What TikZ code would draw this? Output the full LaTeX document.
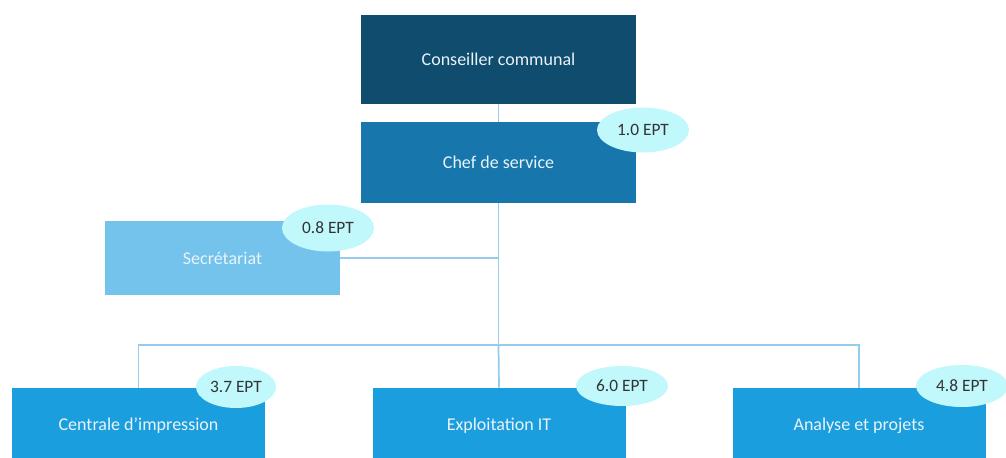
\documentclass[tikz,border=0pt]{standalone}
\usepackage{fontspec}
\setmainfont{Carlito}
\usepackage{xcolor}
\usepackage{tikz}
\usetikzlibrary{positioning,shapes.geometric}

\definecolor{navy}{HTML}{0F4C6E}
\definecolor{chefblue}{HTML}{1777AC}
\definecolor{secrblue}{HTML}{73C3EC}
\definecolor{unitblue}{HTML}{1B9EDE}
\definecolor{eptfill}{HTML}{C0F8FB}
\definecolor{linkblue}{HTML}{93CDEB}
\definecolor{boxtext}{HTML}{EAF3F8}

\tikzset{
  orgbox/.style={rectangle, text=boxtext, font=\fontsize{13.5}{16}\selectfont, inner sep=0pt},
  eptbubble/.style={ellipse, fill=eptfill, text=black!80, font=\fontsize{13}{15}\selectfont,
    minimum width=0.75pt*92, minimum height=0.75pt*45, inner sep=0pt},
  link/.style={draw=linkblue, line width=1.3pt}
}

\begin{document}
\begin{tikzpicture}[x=0.75pt, y=-0.75pt]
    \useasboundingbox (0,0) rectangle (1006,457);

    % Direction
    \node[orgbox, fill=navy, minimum width=0.75pt*275, minimum height=0.75pt*89] (cons) at (498.5,59.5) {Conseiller communal};
    \node[orgbox, fill=chefblue, minimum width=0.75pt*275, minimum height=0.75pt*81] (chef) at (498.5,162.5) {Chef de service};

    % Etat-major
    \node[orgbox, fill=secrblue, minimum width=0.75pt*235, minimum height=0.75pt*74] (secr) at (222.5,258) {Secrétariat};

    % Unites
    \node[orgbox, fill=unitblue, minimum width=0.75pt*253, minimum height=0.75pt*76] (cent) at (138.5,426) {Centrale d'impression};
    \node[orgbox, fill=unitblue, minimum width=0.75pt*253, minimum height=0.75pt*76] (expl) at (499,426) {Exploitation IT};
    \node[orgbox, fill=unitblue, minimum width=0.75pt*253, minimum height=0.75pt*76] (anal) at (859,426) {Analyse et projets};

    % Liaisons
    \coordinate (bus) at (498.5,345);
    \draw[link] (cons) -- (chef);
    \draw[link] (chef.south) -- (bus);
    \draw[link] (secr.east) -- (secr.east -| bus);
    \draw[link] (cent.north) |- (bus);
    \draw[link] (anal.north) |- (bus);
    \draw[link] (expl.north) -- (bus);

    % EPT
    \node[eptbubble] (eptchef) at (643,130) {1.0 EPT};
    \node[eptbubble, minimum height=0.75pt*47] (eptsecr) at (328,228) {0.8 EPT};
    \node[eptbubble, minimum width=0.75pt*80, minimum height=0.75pt*42] (eptcent) at (236,387) {3.7 EPT};
    \node[eptbubble, minimum height=0.75pt*40] (eptexpl) at (622,386) {6.0 EPT};
    \node[eptbubble, minimum height=0.75pt*42] (eptanal) at (962,386) {4.8 EPT};
\end{tikzpicture}
\end{document}
